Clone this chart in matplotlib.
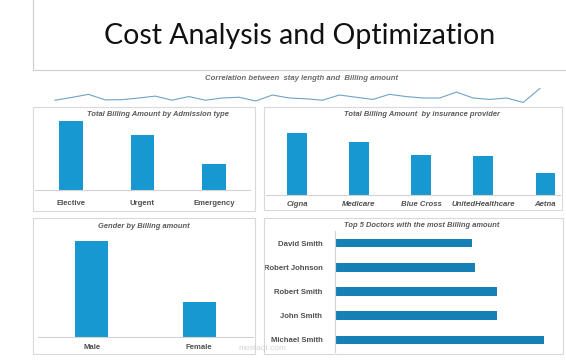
import matplotlib
matplotlib.use("Agg")
import matplotlib.pyplot as plt
from matplotlib.patches import Rectangle

# data (relative units)
stay_trend = [5, 7.5, 10.3, 5.3, 5.5, 7, 8.7, 5, 8.3, 5, 7, 7.7, 4.3, 9.7, 7,
              6.3, 5, 9.7, 7.7, 5.7, 10.3, 8.3, 7, 7, 12.3, 7, 5.7, 7, 3, 15.7]

admission_types = ["Elective", "Urgent", "Emergency"]
admission_billing = [69, 55, 26]

providers = ["Cigna", "Medicare", "Blue Cross", "UnitedHealthcare", "Aetna"]
provider_billing = [62, 53, 40, 39, 22]

genders = ["Male", "Female"]
gender_billing = [96, 35]

doctors = ["David Smith", "Robert Johnson", "Robert Smith", "John Smith", "Michael Smith"]
doctor_billing = [137, 140, 162, 162, 209]

W, H = 566, 361
BAR = "#1898d0"
BAR2 = "#1580b5"
GRID = "#d4d4d4"
TXT = "#505050"
plt.rcParams["font.family"] = ["Liberation Sans", "DejaVu Sans"]

fig = plt.figure(figsize=(W / 100, H / 100), dpi=100)
fig.patch.set_facecolor("white")


def box(l, t, r, b):
    return [l / W, 1 - b / H, (r - l) / W, (b - t) / H]


def frame(l, t, r, b, color="#d9d9d9"):
    fig.patches.append(Rectangle((l / W, 1 - b / H), (r - l) / W, (b - t) / H,
                                 transform=fig.transFigure, fill=False,
                                 edgecolor=color, linewidth=0.8))


def ftext(x, y, s, **kw):
    fig.text(x / W, 1 - y / H, s, ha="center", va="center", **kw)


# title box
frame(33, -2, 570, 70, "#cfcfcf")
ftext(300, 36, "Cost Analysis and Optimization", fontsize=20.5,
      family=["Lato", "DejaVu Sans"], color="#111111")

# sparkline
ftext(302, 78, "Correlation between  stay length and  Billing amount",
      fontsize=5.6, fontweight="bold", fontstyle="italic", color="#6a6a6a")
ax0 = fig.add_axes(box(50, 88, 545, 103))
ax0.plot(range(len(stay_trend)), stay_trend, color="#6fa3c8", lw=0.8)
ax0.set_xlim(-0.3, len(stay_trend) - 0.7)
ax0.set_ylim(2.5, 16)
ax0.axis("off")

# panel frames
frame(33, 107, 255, 211)
frame(264, 107, 562, 210)
frame(33, 218, 255, 354)
frame(264, 218, 563, 354)

ttl = dict(fontsize=5.4, fontweight="bold", fontstyle="italic", color="#595959")
ftext(158, 114, "Total Billing Amount by Admission type", **ttl)
ftext(422, 114, "Total Billing Amount  by insurance provider", **ttl)
ftext(144, 226, "Gender by Billing amount", **ttl)
ftext(422, 225, "Top 5 Doctors with the most Billing amount", **ttl)


def vbars(ax, cats, vals, width, span, italic=False, pad=7):
    ax.bar(range(len(cats)), vals, width=width, color=BAR)
    ax.set_xlim(-0.5, span)
    ax.set_xticks(range(len(cats)))
    ax.set_xticklabels(cats, fontsize=5.6, fontweight="bold", color=TXT,
                       fontstyle="italic" if italic else "normal")
    ax.tick_params(axis="x", length=0, pad=pad)
    ax.set_yticks([])
    for s in ["top", "left", "right"]:
        ax.spines[s].set_visible(False)
    ax.spines["bottom"].set_color(GRID)
    ax.spines["bottom"].set_linewidth(0.8)
    ax.patch.set_alpha(0)


ax1 = fig.add_axes(box(35, 110, 250, 190))
vbars(ax1, admission_types, admission_billing, 0.33, 2.5)
ax1.set_ylim(0, 80)

ax2 = fig.add_axes(box(266, 120, 560, 195))
vbars(ax2, providers, provider_billing, 0.31, 4.24, italic=True, pad=4)
ax2.set_ylim(0, 75)

ax3 = fig.add_axes(box(38, 232, 253, 337))
vbars(ax3, genders, gender_billing, 0.31, 1.5, pad=5)
ax3.set_ylim(0, 105)

# doctors horizontal bars
ax4 = fig.add_axes(box(335, 231, 560, 352))
pos = list(range(len(doctors)))[::-1]
ax4.barh(pos, doctor_billing, height=0.36, color=BAR2)
ax4.set_ylim(-0.5, 4.5)
ax4.set_xlim(0, 225)
ax4.set_yticks(pos)
ax4.set_yticklabels(doctors, fontsize=5.6, fontweight="bold", color=TXT)
ax4.tick_params(axis="y", length=0, pad=9)
ax4.set_xticks([])
for s in ["top", "bottom", "right"]:
    ax4.spines[s].set_visible(False)
ax4.spines["left"].set_color(GRID)
ax4.spines["left"].set_linewidth(0.8)
ax4.patch.set_alpha(0)

# faint watermark
ftext(262, 348, "mostaql.com", fontsize=6, color="#c8c8c8", alpha=0.8)

fig.savefig("out.png", dpi=100, facecolor="white")
